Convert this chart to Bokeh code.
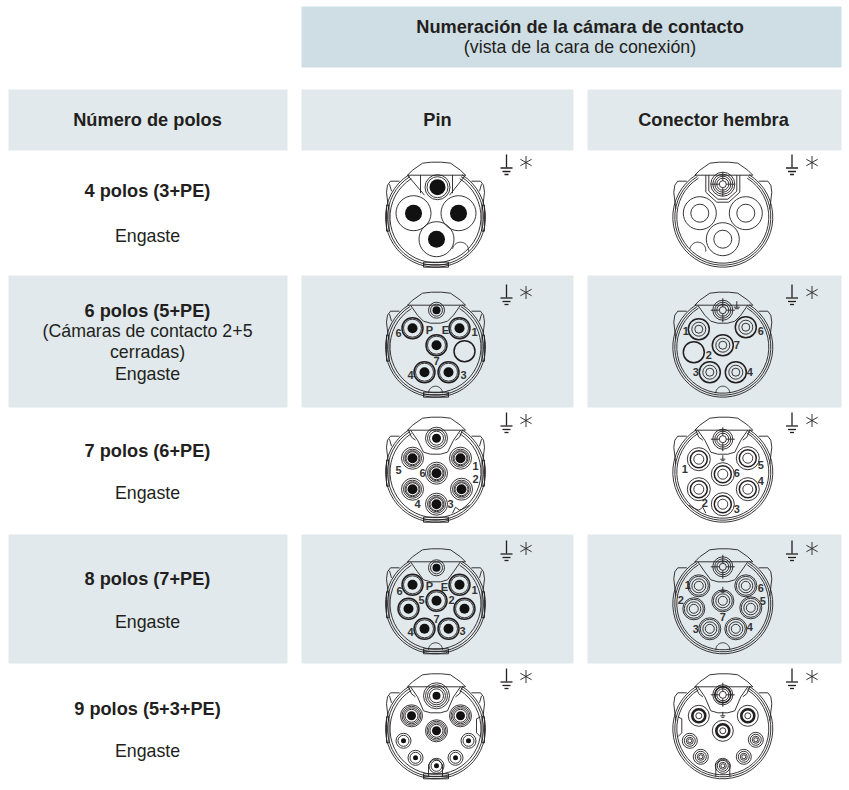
import numpy as np
from bokeh.plotting import figure
from bokeh.models import Range1d
from bokeh.embed import file_html
from bokeh.resources import INLINE
from bokeh.core.properties import value

FONT = value("Liberation Sans")
INK = "#231f20"
TINT = "#e1e9ec"
TINT_TOP = "#cfdde4"

# ---------------- table texts ----------------
top_header = ["Numeración de la cámara de contacto", "(vista de la cara de conexión)"]
col_headers = ["Número de polos", "Pin", "Conector hembra"]
row_titles = ["4 polos (3+PE)", "6 polos (5+PE)", "7 polos (6+PE)", "8 polos (7+PE)", "9 polos (5+3+PE)"]
row_notes = [["Engaste"], ["(Cámaras de contacto 2+5", "cerradas)", "Engaste"], ["Engaste"], ["Engaste"], ["Engaste"]]
row_title_y = [190, 310, 450, 578, 708]
row_note_y = [[235], [330, 351, 373], [492], [621], [750]]
row_center_y = [216.7, 346.7, 471.7, 603.3, 728.3]
ground_top_y = [154, 284, 412, 540, 668]
tinted_rows = [(275, 407), (534, 663)]

PIN_X, FEM_X = 435.0, 722.3

# ---------------- contacts: (dx, dy) from the connector centre ----------------
pin_contacts = [
    {"top": (2, -30), "main": [(-22, -4), (23, -4), (1, 22)], "empty": [], "small": []},
    {"top": (1, -37), "main": [(-23, -19), (24, -19), (1, -2), (-11, 25), (13, 25)], "empty": [(29, 4)], "small": []},
    {"top": (1, -34), "main": [(-23, -14), (25, -14), (1, 1), (-23, 17), (26, 17), (1, 32)], "empty": [], "small": []},
    {"top": (1, -36), "main": [(-23, -19), (24, -19), (1, -3), (-27, 5), (29, 5), (-11, 25), (13, 25)], "empty": [], "small": []},
    {"top": (1, -33), "main": [(-24, -13), (25, -13), (1, 2)], "empty": [], "small": [(-32, 12), (33, 12), (-20, 29), (20, 29), (1, 37)]},
]
fem_contacts = [
    {"top": (0, -33), "main": [(-23, -4), (23, -4), (0, 22)], "empty": [], "small": []},
    {"top": (0, -37), "main": [(-24, -18), (23, -20), (0, -2), (-13, 25), (13, 25)], "empty": [(-29, 5)], "small": []},
    {"top": (0, -33), "main": [(-24, -13), (25, -14), (0, 2), (25, 17), (-24, 17), (0, 32)], "empty": [], "small": []},
    {"top": (0, -37), "main": [(-24, -18), (23, -18), (0, -3), (-29, 5), (28, 4), (-13, 25), (13, 25)], "empty": [], "small": []},
    {"top": (0, -34), "main": [(-24, -13), (25, -13), (0, 2)], "empty": [], "small": [(-33, 12), (33, 11), (-22, 28), (21, 28), (0, 37)]},
]

# ---------------- contact numbers: (text, dx, dy) ----------------
pin_labels = [
    [],
    [("6", -37, -14), ("P", -6, -17), ("E", 10, -17), ("1", 39, -15), ("7", 1, 14), ("3", 28, 28), ("4", -25, 28)],
    [("5", -37, -2), ("1", 40, -6), ("6", -13, 1), ("2", 40, 7), ("4", -18, 32), ("3", 15, 32)],
    [("6", -36, -13), ("P", -6, -18), ("E", 9, -17), ("1", 39, -14), ("5", -14, -4), ("2", 16, -4), ("7", 1, 15), ("4", -25, 28), ("3", 27, 27)],
    [],
]
fem_labels = [
    [],
    [("1", -37, -16), ("6", 38, -16), ("7", 14, -2), ("2", -14, 8), ("3", -27, 25), ("4", 27, 25)],
    [("1", -38, -3), ("5", 38, -7), ("6", 14, 1), ("4", 38, 9), ("2", -18, 31), ("3", 14, 37)],
    [("1", -35, -19), ("6", 38, -16), ("2", -42, -4), ("5", 40, -3), ("7", 0, 13), ("3", -27, 25), ("4", 27, 23)],
    [],
]

p = figure(width=845, height=782, output_backend="svg", toolbar_location=None,
           x_range=Range1d(0, 845), y_range=Range1d(782, 0), min_border=0)
p.axis.visible = False
p.grid.visible = False
p.outline_line_color = None

# ---------------- tinted cells ----------------
cols = [(8, 287), (301, 573), (587, 841)]
p.quad(left=[301], right=[841], top=[6], bottom=[67], fill_color=TINT_TOP, line_color=None)
p.quad(left=[c[0] for c in cols], right=[c[1] for c in cols], top=[89] * 3, bottom=[150] * 3,
       fill_color=TINT, line_color=None)
for y0, y1 in tinted_rows:
    p.quad(left=[c[0] for c in cols], right=[c[1] for c in cols], top=[y0] * 3, bottom=[y1] * 3,
           fill_color=TINT, line_color=None)

# ---------------- connector line work ----------------
LX, LY = [], []   # fine lines
GX, GY = [], []   # earth symbols
SX, SY = [], []   # asterisks
CX, CY, CR = [], [], []   # fine rings
TX, TY, TR = [], [], []   # heavy rings
UX, UY, UR = [], [], []   # very heavy rings
DX, DY, DR = [], [], []   # black dots


def pl(cx, cy, pts, xs=LX, ys=LY):
    xs.append([cx + a for a, _ in pts])
    ys.append([cy + b for _, b in pts])


def arc(cx, cy, r, a0, a1, n=40):
    t = np.radians(np.linspace(a0, a1, n))
    LX.append(list(cx + r * np.cos(t)))
    LY.append(list(cy + r * np.sin(t)))


def ring(cx, cy, r):
    CX.append(cx); CY.append(cy); CR.append(r)


def heavy(cx, cy, r):
    TX.append(cx); TY.append(cy); TR.append(r)


def vheavy(cx, cy, r):
    UX.append(cx); UY.append(cy); UR.append(r)


def dot(cx, cy, r):
    DX.append(cx); DY.append(cy); DR.append(r)


def body(cx, cy, is_pin, row):
    # angle 0 = east, 90 = south (y axis points down the page)
    for r in (50, 48, 45.5) if is_pin else (50, 48, 46):
        arc(cx, cy, r, -58, 238)
    # top cap
    pl(cx, cy, [(-28, -42), (-23, -47), (-13, -54), (-4, -55), (6, -55), (15, -54), (25, -47), (30, -42)])
    pl(cx, cy, [(-28, -42), (30, -42)])
    # side lobes
    for s in (-1, 1):
        pl(cx, cy, [(s * 47, -8), (s * 49, -25), (s * 48, -32), (s * 45, -36), (s * 36, -36)])
        if is_pin:
            pl(cx, cy, [(s * 44, -26), (s * 46, -33)])
            pl(cx, cy, [(s * 46.5, -12), (s * 49, -12), (s * 49, 14), (s * 46.5, 14), (s * 46.5, -12)])
    if is_pin:
        pl(cx, cy, [(-12, 45), (13, 45), (13, 50), (-12, 50), (-12, 45)])
        pl(cx, cy, [(-12, 47.5), (13, 47.5)])
    # top pocket
    if row == 0 and is_pin:
        pl(cx, cy, [(-28, -42), (-11, -22)])
        pl(cx, cy, [(30, -42), (14, -22)])
        pl(cx, cy, [(-15, -42), (-15, -24)])
        pl(cx, cy, [(17, -42), (17, -24)])
    elif row == 0:
        pl(cx, cy, [(-17, -42), (-17, -25), (-6, -15), (6, -15), (17, -25), (17, -42)])
        pl(cx, cy, [(-14, -42), (-14, -26), (-5, -18), (5, -18), (14, -26), (14, -42)])
    else:
        depth = {1: -24, 2: -18, 3: -22, 4: -16}[row]
        pl(cx, cy, [(-25, -42), (-18, -32), (-12, depth - 2), (-5, depth), (5, depth),
                    (12, depth - 2), (18, -32), (25, -42)])
        if row in (2, 4):
            for s in (-1, 1):
                pl(cx, cy, [(s * 27, -42), (s * 24, -35), (s * 20, -32)])
    # bottom details
    if row == 0 or row == 2:
        s = 1 if is_pin else -1
        if row == 0:
            arc(cx + s * 25, cy + 33, 8, -170, 10)
        else:
            pl(cx, cy, [(s * 17, 41), (s * 20, 35), (s * 24, 38), (s * 29, 36), (s * 34, 33)])
    if row in (1, 3):
        arc(cx, cy + 46, 7, -180, 0)
    if row == 4:
        s = 1 if is_pin else -1
        pl(cx, cy, [(s * 45, -12), (s * 41, -10), (s * 41, 4), (s * 45, 8)])
        pl(cx, cy, [(-7, 48), (-7, 36), (-3, 31), (3, 31), (7, 36), (7, 48)])


def pin_contact_top(cx, cy, row):
    n = {0: (12.5, 10.5), 1: (8, 6), 2: (11, 9, 7), 3: (8, 6), 4: (13, 11, 9, 7)}[row]
    for r in n:
        ring(cx, cy, r)
    dot(cx, cy, {0: 8, 1: 4, 2: 4.5, 3: 4, 4: 4}[row])


def fem_contact_top(cx, cy, row):
    for r in ((12, 10, 8, 6) if row == 0 else (10, 8, 6)):
        ring(cx, cy, r)
    if row == 4:
        heavy(cx, cy, 8)
    ring(cx, cy, 3.5)
    for a, b in ((-1, 0), (1, 0), (0, -1), (0, 1)):
        pl(cx, cy, [(a * 3.5, b * 3.5), (a * 12, b * 12)])


for i, yc in enumerate(row_center_y):
    # ---- pin side ----
    body(PIN_X, yc, True, i)
    spec = pin_contacts[i]
    pin_contact_top(PIN_X + spec["top"][0], yc + spec["top"][1], i)
    for dx, dy in spec["main"]:
        x, y = PIN_X + dx, yc + dy
        if i == 0:
            ring(x, y, 17.5); dot(x, y, 8.5)
        elif i in (1, 3):
            heavy(x, y, 10.5); ring(x, y, 9); dot(x, y, 5)
        elif i == 2:
            for r in (11, 9, 7.5, 6.5):
                ring(x, y, r)
            dot(x, y, 5)
        else:
            for r in (11, 9.5, 8, 6.5):
                ring(x, y, r)
            dot(x, y, 4.5)
    for dx, dy in spec["empty"]:
        heavy(PIN_X + dx, yc + dy, 10.5)
    for dx, dy in spec["small"]:
        ring(PIN_X + dx, yc + dy, 7.5); ring(PIN_X + dx, yc + dy, 5.5); dot(PIN_X + dx, yc + dy, 2.5)

    # ---- socket side ----
    body(FEM_X, yc, False, i)
    spec = fem_contacts[i]
    fem_contact_top(FEM_X + spec["top"][0], yc + spec["top"][1], i)
    for dx, dy in spec["main"]:
        x, y = FEM_X + dx, yc + dy
        if i == 0:
            ring(x, y, 16.5); ring(x, y, 9)
        elif i == 1:
            heavy(x, y, 10.5); ring(x, y, 7); ring(x, y, 4)
        elif i == 2:
            ring(x, y, 11.5); heavy(x, y, 8.5); ring(x, y, 5)
        elif i == 3:
            ring(x, y, 11); ring(x, y, 9.5); ring(x, y, 7); ring(x, y, 4.5)
        else:
            ring(x, y, 10.5); vheavy(x, y, 6.5); ring(x, y, 3)
    for dx, dy in spec["empty"]:
        heavy(FEM_X + dx, yc + dy, 10.5)
    for dx, dy in spec["small"]:
        for r in (7.5, 5.5, 3.5, 2):
            ring(FEM_X + dx, yc + dy, r)
    if i >= 2:
        x, y = FEM_X, yc - 17
        pl(x, y, [(0, 0), (0, 4)])
        pl(x, y, [(-2.5, 4), (2.5, 4)])
        pl(x, y, [(-1.5, 5.5), (1.5, 5.5)])
    if i == 1:
        x, y = FEM_X + 14, yc - 46
        pl(x, y, [(0, 0), (0, 6)])
        pl(x, y, [(-3, 6), (3, 6)])
        pl(x, y, [(-2, 7.5), (2, 7.5)])

    # ---- earth symbol + asterisk ----
    for gx, ax in ((506.0, 525.5), (791.5, 811.5)):
        gy = ground_top_y[i]
        pl(gx, gy, [(0, 0), (0, 13)], GX, GY)
        pl(gx, gy, [(-6, 13.5), (6, 13.5)], GX, GY)
        pl(gx, gy, [(-4, 17), (4, 17)], GX, GY)
        pl(gx, gy, [(-2, 20), (2, 20)], GX, GY)
        for a in (0, 60, 120):
            t = np.radians(a + 90)
            pl(ax, gy + 8, [(-6.5 * np.cos(t), -6.5 * np.sin(t)), (6.5 * np.cos(t), 6.5 * np.sin(t))], SX, SY)

p.multi_line(LX, LY, line_color=INK, line_width=0.9)
p.multi_line(GX, GY, line_color=INK, line_width=1.3)
p.multi_line(SX, SY, line_color=INK, line_width=0.9)
p.circle(CX, CY, radius=CR, fill_color=None, line_color=INK, line_width=0.9)
p.circle(TX, TY, radius=TR, fill_color=None, line_color=INK, line_width=1.5)
p.circle(UX, UY, radius=UR, fill_color=None, line_color=INK, line_width=2.6)
p.circle(DX, DY, radius=DR, fill_color="#111111", line_color=None)

# ---------------- numbers ----------------
nx, ny, nt = [], [], []
for i, yc in enumerate(row_center_y):
    for t, dx, dy in pin_labels[i]:
        nx.append(PIN_X + dx); ny.append(yc + dy); nt.append(t)
    for t, dx, dy in fem_labels[i]:
        nx.append(FEM_X + dx); ny.append(yc + dy); nt.append(t)
p.text(nx, ny, text=nt, text_font=FONT, text_font_size="11px", text_font_style="bold", text_color="#333333",
       text_align="center", text_baseline="middle")


# ---------------- table text ----------------
def label(x, y, s, bold=False):
    p.text([x], [y], text=[s], text_font=FONT, text_font_size="18.2px" if bold else "17.8px",
           text_font_style="bold" if bold else "normal", text_color=INK,
           text_align="center", text_baseline="middle")


label(579.5, 26, top_header[0], True)
label(579.5, 46, top_header[1])
for x, s in zip((147, 437, 713), col_headers):
    label(x, 119, s, True)
for s, y, notes, ys in zip(row_titles, row_title_y, row_notes, row_note_y):
    label(147, y, s, True)
    for n, yy in zip(notes, ys):
        label(147, yy, n)

open("out.html", "w").write(file_html(p, INLINE))
